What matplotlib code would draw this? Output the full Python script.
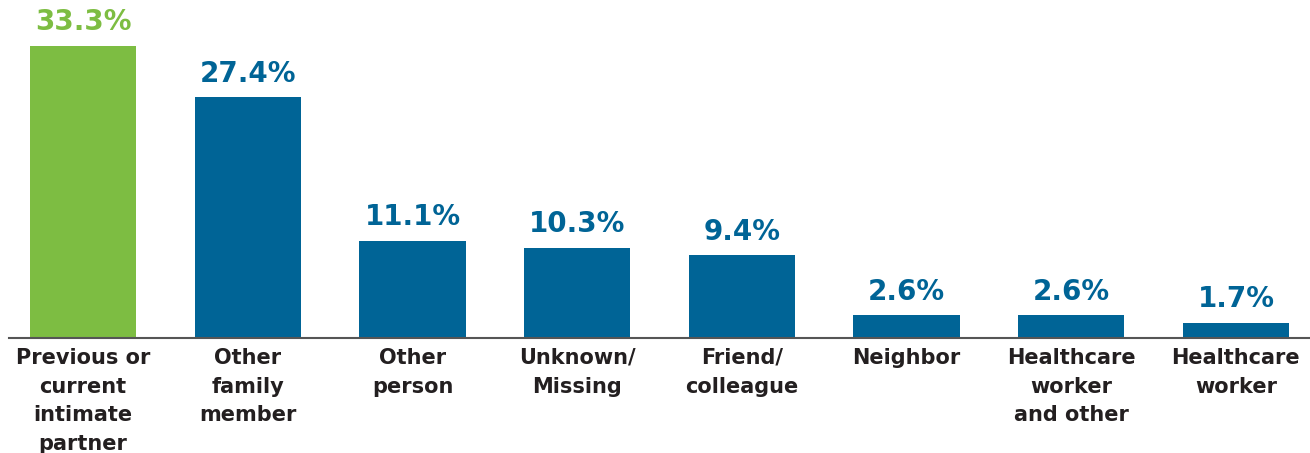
import matplotlib.pyplot as plt

categories = ["Previous or\ncurrent\nintimate\npartner", "Other\nfamily\nmember", "Other\nperson",
              "Unknown/\nMissing", "Friend/\ncolleague", "Neighbor", "Healthcare\nworker\nand other",
              "Healthcare\nworker"]
values = [33.3, 27.4, 11.1, 10.3, 9.4, 2.6, 2.6, 1.7]
labels = ["33.3%", "27.4%", "11.1%", "10.3%", "9.4%", "2.6%", "2.6%", "1.7%"]

green = "#7dbd42"
blue = "#006496"
colors = [green] + [blue] * 7

fig = plt.figure(figsize=(13.1, 4.53), dpi=100)
ax = fig.add_axes([9 / 1310, 1 - 338 / 453, 1301 / 1310, 338 / 453])

x = range(len(values))
ax.bar(x, values, width=0.644, color=colors, zorder=2)

for i, (v, lab) in enumerate(zip(values, labels)):
    ax.text(i, v + 1.1, lab, ha="center", va="bottom", fontsize=20, fontweight="bold",
            color=colors[i], family="DejaVu Sans")

ax.set_xlim(-0.45, 7.45)
ax.set_ylim(0, 38.5)
ax.set_xticks(list(x))
ax.set_xticklabels(categories, fontsize=15, fontweight="bold", color="#231f20",
                   family="DejaVu Sans", linespacing=1.55)
ax.tick_params(axis="x", length=0, pad=7)
ax.set_yticks([])
for side in ["top", "right", "left"]:
    ax.spines[side].set_visible(False)
ax.spines["bottom"].set_color("#555555")
ax.spines["bottom"].set_linewidth(1.5)

fig.savefig("out.png", dpi=100)
